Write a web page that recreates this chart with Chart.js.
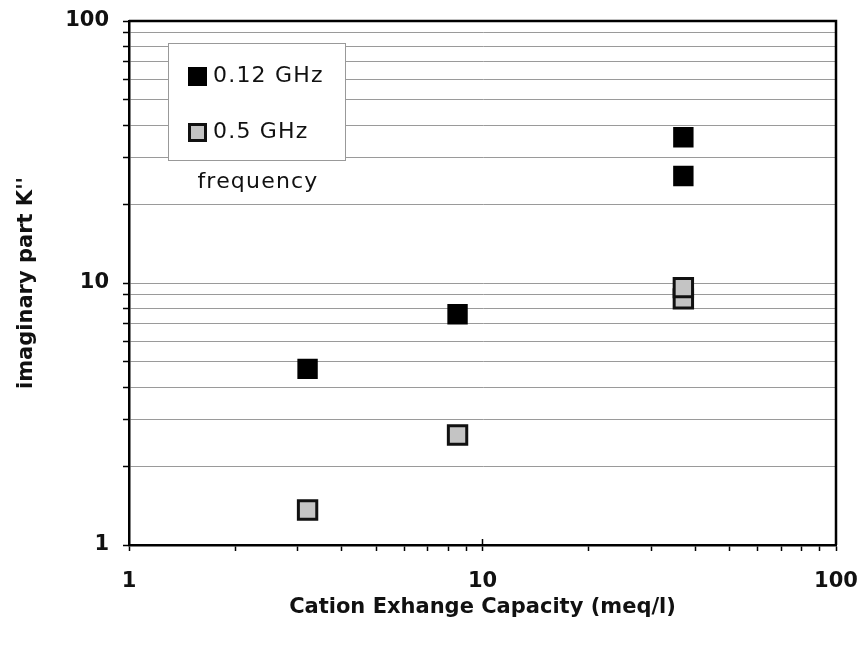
<!DOCTYPE html>
<html>
<head>
<meta charset="utf-8">
<script src="https://cdn.jsdelivr.net/npm/chart.js@4.4.0/dist/chart.umd.min.js"></script>
<style>
  html, body { margin: 0; padding: 0; background: #fff; }
  #wrap { width: 866px; height: 650px; }
</style>
</head>
<body>
<div id="wrap"><canvas id="chart" width="866" height="650"></canvas></div>
<script>
// values
const seriesNames = ["0.12 GHz", "0.5 GHz"];
const cec012 = [3.2, 8.5, 37, 37];
const k012 = [4.7, 7.6, 36, 25.6];
const cec05 = [3.2, 8.5, 37, 37];
const k05 = [1.36, 2.63, 8.7, 9.6];
const logTicks = [1, 2, 3, 4, 5, 6, 7, 8, 9, 10, 20, 30, 40, 50, 60, 70, 80, 90, 100];
const labelledTicks = [1, 10, 100];
const legendTitle = "frequency";
const xTitle = "Cation Exhange Capacity (meq/l)";
const yTitle = "imaginary part K''";

const toPoints = (xs, ys) => xs.map((x, i) => ({ x: x, y: ys[i] }));
const tickLabel = (v) => labelledTicks.includes(v) ? String(v) : "";

// frame on top/right, major x ticks crossing in, legend box inside the plot
const extras = {
  id: "extras",
  afterDatasetsDraw(chart) {
    const ctx = chart.ctx;
    const a = chart.chartArea;
    ctx.save();
    ctx.strokeStyle = "#000";
    ctx.lineWidth = 2.5;
    ctx.beginPath();
    ctx.moveTo(a.left, a.top);
    ctx.lineTo(a.right, a.top);
    ctx.lineTo(a.right, a.bottom);
    ctx.stroke();

    ctx.lineWidth = 1.5;
    labelledTicks.forEach(v => {
      const px = chart.scales.x.getPixelForValue(v);
      ctx.beginPath();
      ctx.moveTo(px, a.bottom);
      ctx.lineTo(px, a.bottom - 6);
      ctx.stroke();
    });

    // legend box
    const bx = a.left + 39, by = a.top + 22;
    ctx.fillStyle = "#fff";
    ctx.fillRect(bx, by, 177, 117);
    ctx.strokeStyle = "#999";
    ctx.lineWidth = 1;
    ctx.strokeRect(bx + 0.5, by + 0.5, 177, 117);

    const ds = chart.data.datasets;
    const rows = [33, 89];
    ctx.font = "22px 'DejaVu Sans'";
    ctx.letterSpacing = "1.2px";
    ctx.textBaseline = "middle";
    ds.forEach((d, i) => {
      const cy = by + rows[i];
      ctx.fillStyle = d.borderColor;
      ctx.fillRect(bx + 20, cy - 9, 19, 19);
      ctx.fillStyle = d.backgroundColor;
      const bw = d.borderWidth;
      ctx.fillRect(bx + 20 + bw, cy - 9 + bw, 19 - 2 * bw, 19 - 2 * bw);
      ctx.fillStyle = "#111";
      ctx.textAlign = "left";
      ctx.fillText(d.label, bx + 45, cy);
    });
    ctx.textAlign = "center";
    ctx.fillText(legendTitle, bx + 90, by + 139);
    ctx.restore();
  }
};

new Chart(document.getElementById("chart"), {
  type: "scatter",
  data: {
    datasets: [
      {
        label: seriesNames[0],
        data: toPoints(cec012, k012),
        backgroundColor: "#000",
        borderColor: "#000",
        borderWidth: 2,
        pointStyle: "rect",
        pointRadius: 13,
        pointHoverRadius: 13
      },
      {
        label: seriesNames[1],
        data: toPoints(cec05, k05),
        backgroundColor: "#c4c4c4",
        borderColor: "#111",
        borderWidth: 3,
        pointStyle: "rect",
        pointRadius: 13,
        pointHoverRadius: 13
      }
    ]
  },
  plugins: [extras],
  options: {
    responsive: false,
    animation: false,
    layout: { padding: { left: 0, top: 21, right: 30, bottom: 0 } },
    plugins: {
      legend: { display: false },
      tooltip: { enabled: false }
    },
    scales: {
      x: {
        type: "logarithmic",
        min: 1,
        max: 100,
        afterBuildTicks: (s) => { s.ticks = logTicks.map(v => ({ value: v })); },
        afterFit: (s) => { s.height = 105; s.paddingLeft = 0; s.paddingRight = 0; },
        ticks: {
          autoSkip: false,
          maxRotation: 0,
          padding: 18,
          color: "#111",
          font: { family: "DejaVu Sans", size: 21, weight: "bold" },
          callback: (v) => tickLabel(v)
        },
        grid: {
          drawOnChartArea: false,
          color: "#000",
          tickLength: 6,
          tickWidth: 1.5
        },
        border: { color: "#000", width: 2.5 },
        title: {
          display: true,
          text: xTitle,
          color: "#111",
          font: { family: "DejaVu Sans", size: 21, weight: "bold" },
          padding: { top: 0, bottom: 30 }
        }
      },
      y: {
        type: "logarithmic",
        min: 1,
        max: 100,
        afterBuildTicks: (s) => { s.ticks = logTicks.map(v => ({ value: v })); },
        afterFit: (s) => { s.width = 129; s.paddingTop = 0; s.paddingBottom = 0; },
        ticks: {
          autoSkip: false,
          padding: 14,
          color: "#111",
          font: { family: "DejaVu Sans", size: 21, weight: "bold" },
          callback: (v) => tickLabel(v)
        },
        grid: {
          color: "#9a9a9a",
          lineWidth: 1,
          tickColor: "#000",
          tickLength: 6,
          tickWidth: 1.5
        },
        border: { color: "#000", width: 2.5 },
        title: {
          display: true,
          text: yTitle,
          color: "#111",
          font: { family: "DejaVu Sans", size: 21, weight: "bold" },
          padding: { top: 14, bottom: 0 }
        }
      }
    }
  }
});
</script>
</body>
</html>
